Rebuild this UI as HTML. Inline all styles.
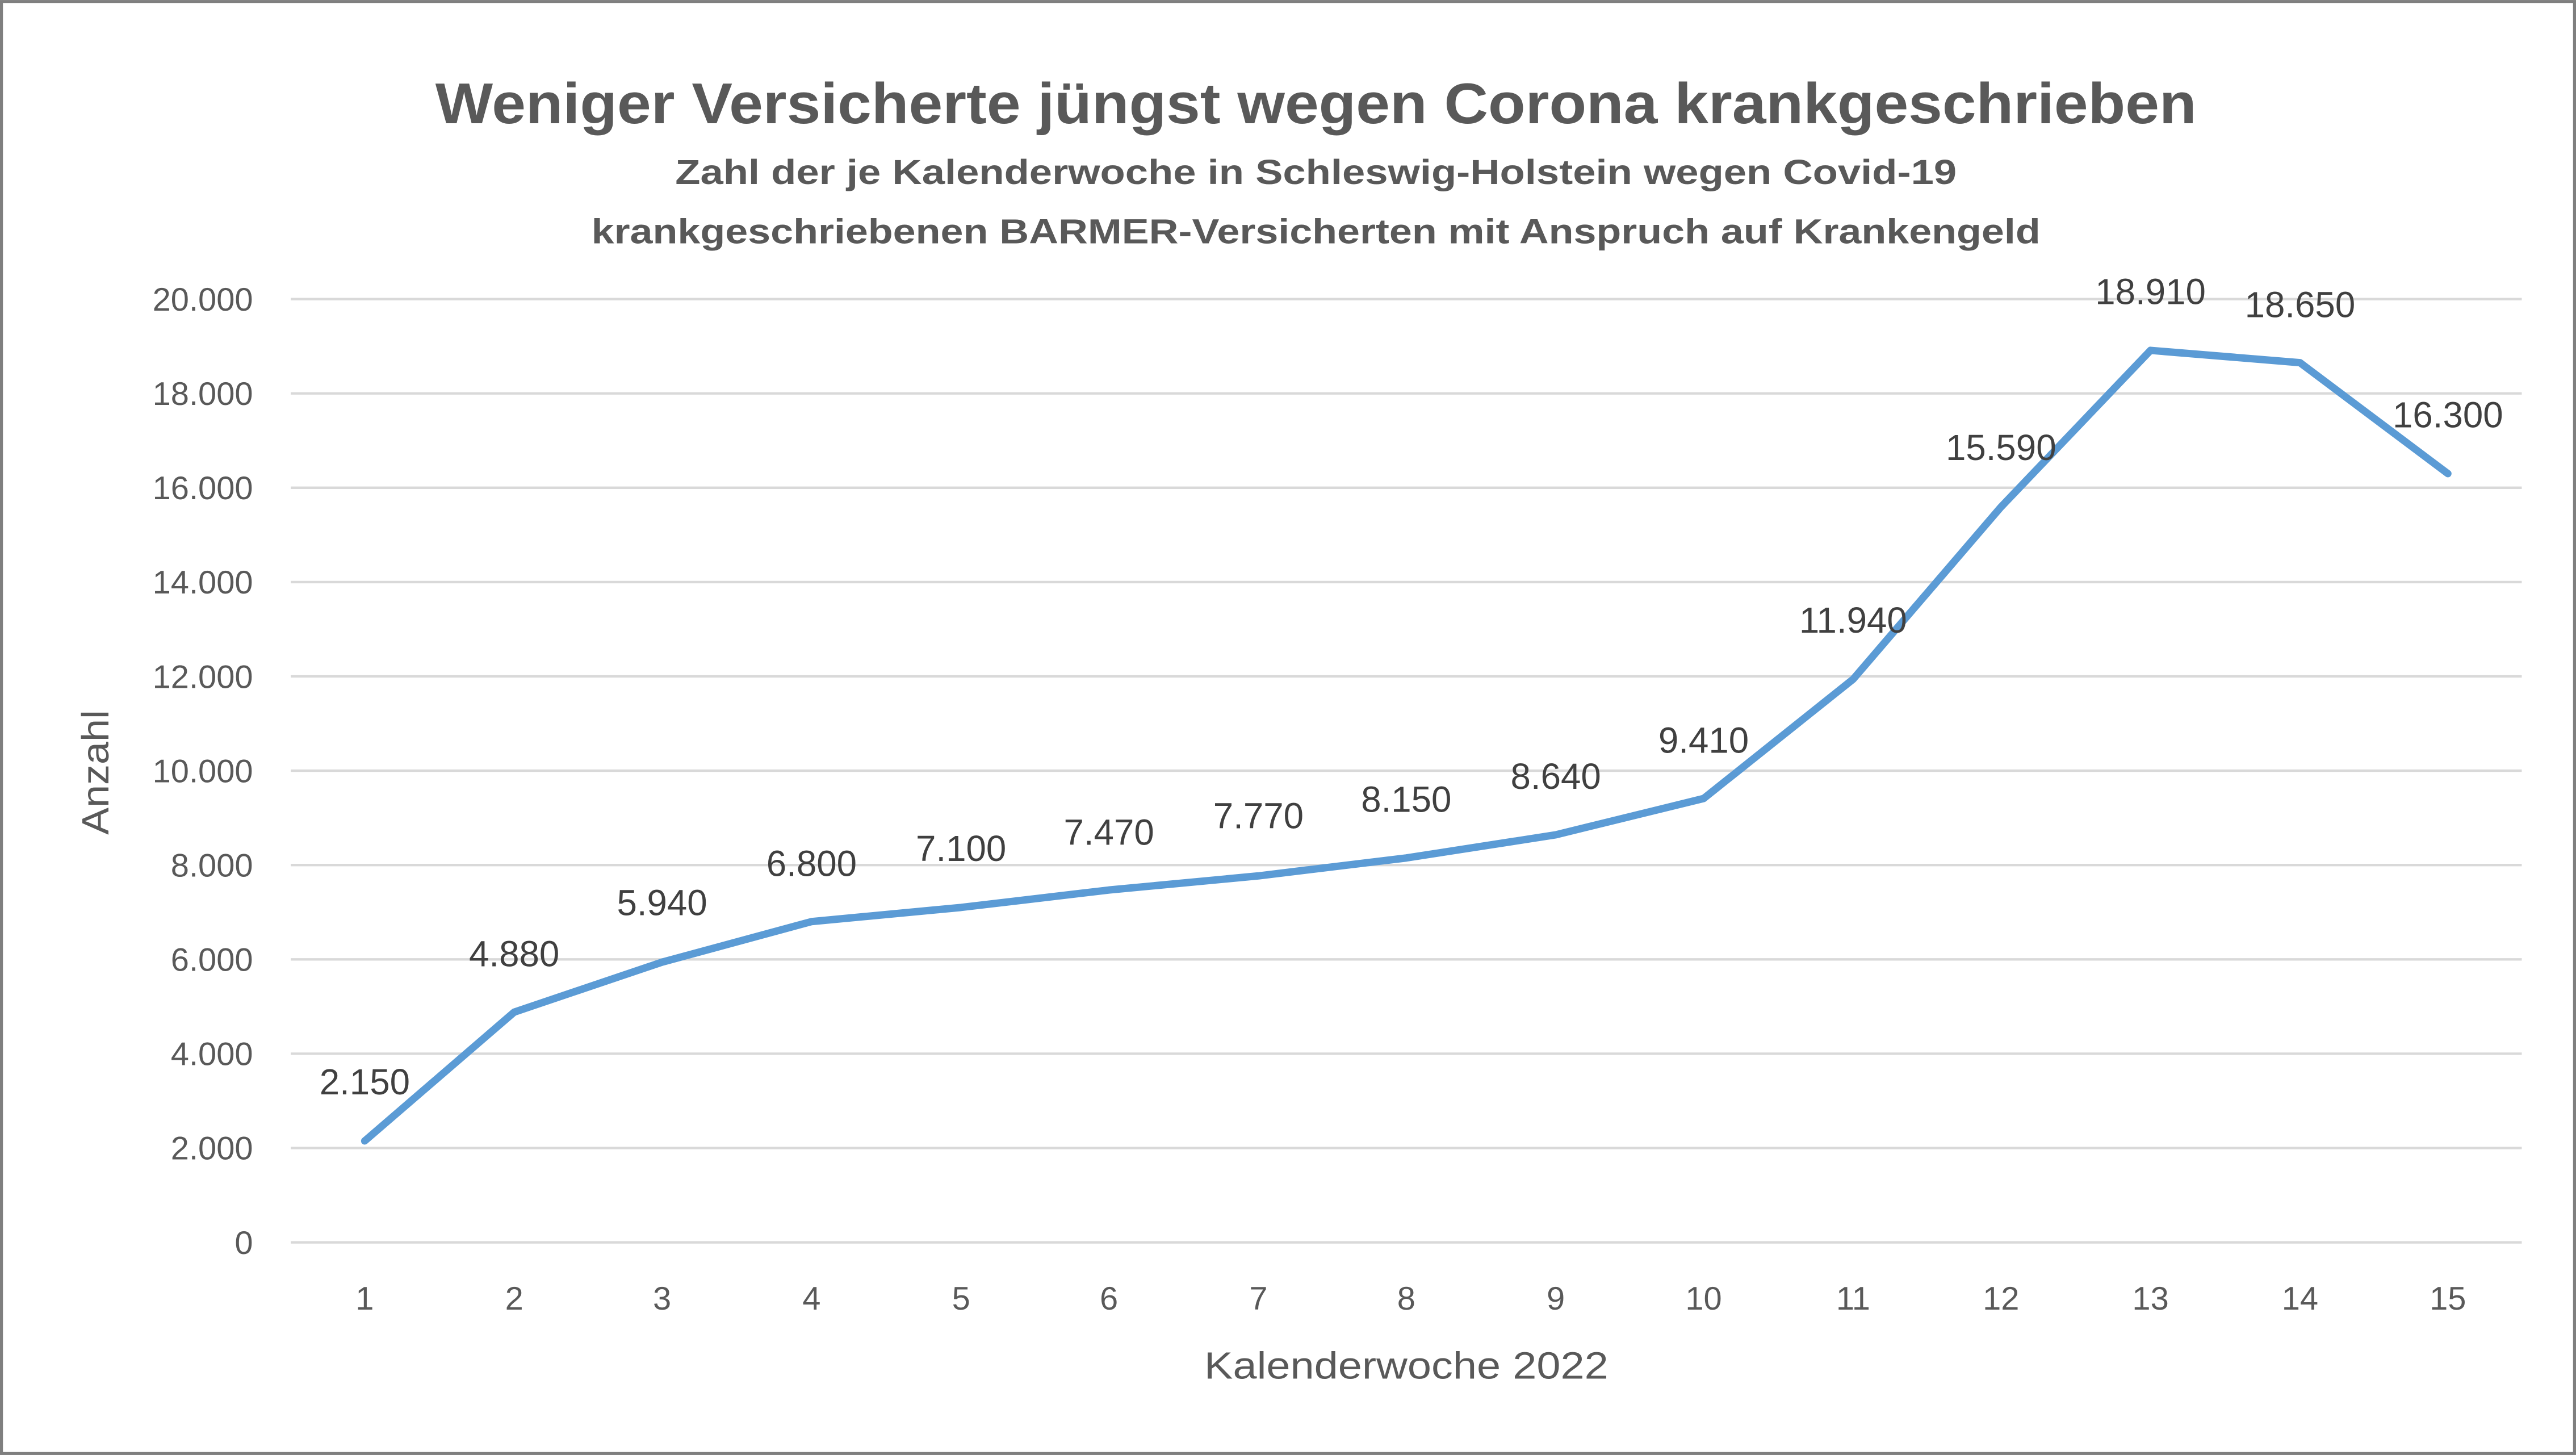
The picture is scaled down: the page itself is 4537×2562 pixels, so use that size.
<!DOCTYPE html>
<html><head><meta charset="utf-8"><style>html,body{margin:0;padding:0;background:#fff}svg{display:block}</style></head>
<body>
<svg width="4537" height="2562" viewBox="0 0 1568 885.4" xmlns="http://www.w3.org/2000/svg" font-family="'Liberation Sans', sans-serif">
<rect x="0.9" y="0.9" width="1566.2" height="883.6" fill="#fff" stroke="#7f7f7f" stroke-width="1.8"/>
<text x="801" y="75" text-anchor="middle" font-size="35" font-weight="bold" fill="#595959" textLength="1072" lengthAdjust="spacingAndGlyphs">Weniger Versicherte jüngst wegen Corona krankgeschrieben</text>
<text x="801" y="112" text-anchor="middle" font-size="21" font-weight="bold" fill="#595959" textLength="780" lengthAdjust="spacingAndGlyphs">Zahl der je Kalenderwoche in Schleswig-Holstein wegen Covid-19</text>
<text x="801" y="148" text-anchor="middle" font-size="21" font-weight="bold" fill="#595959" textLength="882" lengthAdjust="spacingAndGlyphs">krankgeschriebenen BARMER-Versicherten mit Anspruch auf Krankengeld</text>
<g stroke="#d9d9d9" stroke-width="1.5">
<line x1="177" x2="1535" y1="182" y2="182"/><line x1="177" x2="1535" y1="239.4" y2="239.4"/><line x1="177" x2="1535" y1="296.8" y2="296.8"/><line x1="177" x2="1535" y1="354.2" y2="354.2"/><line x1="177" x2="1535" y1="411.6" y2="411.6"/><line x1="177" x2="1535" y1="469" y2="469"/><line x1="177" x2="1535" y1="526.4" y2="526.4"/><line x1="177" x2="1535" y1="583.8" y2="583.8"/><line x1="177" x2="1535" y1="641.2" y2="641.2"/><line x1="177" x2="1535" y1="698.6" y2="698.6"/><line x1="177" x2="1535" y1="756" y2="756"/>
</g>
<g font-size="20" fill="#595959" text-anchor="end">
<text x="154" y="189">20.000</text><text x="154" y="246.4">18.000</text><text x="154" y="303.8">16.000</text><text x="154" y="361.2">14.000</text><text x="154" y="418.6">12.000</text><text x="154" y="476">10.000</text><text x="154" y="533.4">8.000</text><text x="154" y="590.8">6.000</text><text x="154" y="648.2">4.000</text><text x="154" y="705.6">2.000</text><text x="154" y="763">0</text>
</g>
<g font-size="20" fill="#595959" text-anchor="middle">
<text x="222" y="797">1</text><text x="313" y="797">2</text><text x="403" y="797">3</text><text x="494" y="797">4</text><text x="585" y="797">5</text><text x="675" y="797">6</text><text x="766" y="797">7</text><text x="856" y="797">8</text><text x="947" y="797">9</text><text x="1037" y="797">10</text><text x="1128" y="797">11</text><text x="1218" y="797">12</text><text x="1309" y="797">13</text><text x="1400" y="797">14</text><text x="1490" y="797">15</text>
<text x="856" y="839" font-size="23" textLength="246" lengthAdjust="spacingAndGlyphs">Kalenderwoche 2022</text>
<text transform="translate(66,470) rotate(-90)" font-size="23" textLength="76" lengthAdjust="spacingAndGlyphs">Anzahl</text>
</g>
<polyline fill="none" stroke="#5b9bd5" stroke-width="4.5" stroke-linejoin="round" stroke-linecap="round"
points="222,694.3 313,615.9 403,585.5 494,560.8 585,552.2 675,541.6 766,533 856,522.1 947,508 1037,485.9 1128,413.3 1218,308.5 1309,213.2 1400,220.7 1490,288.2"/>
<g font-size="22" fill="#404040" text-anchor="middle">
<text x="222" y="666">2.150</text><text x="313" y="588">4.880</text><text x="403" y="557">5.940</text><text x="494" y="533">6.800</text><text x="585" y="524">7.100</text><text x="675" y="514">7.470</text><text x="766" y="504">7.770</text><text x="856" y="494">8.150</text><text x="947" y="480">8.640</text><text x="1037" y="458">9.410</text><text x="1128" y="385">11.940</text><text x="1218" y="280">15.590</text><text x="1309" y="185">18.910</text><text x="1400" y="193">18.650</text><text x="1490" y="260">16.300</text>
</g>
</svg>
</body></html>
